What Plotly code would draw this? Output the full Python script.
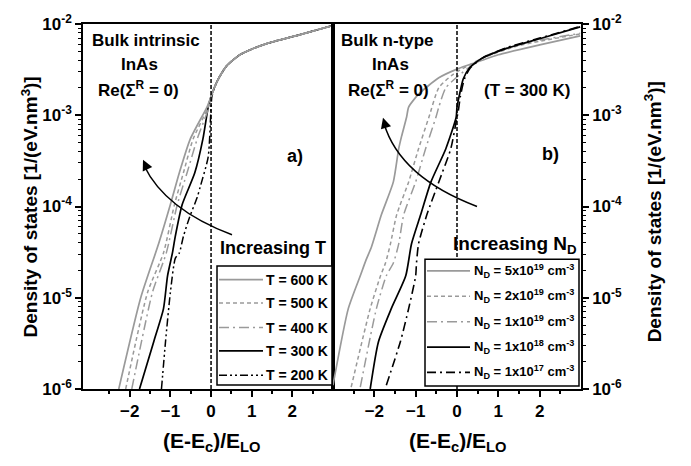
import plotly.graph_objects as go

# ---------------- data ----------------
# panel a) intrinsic InAs, different temperatures
upper_a_x = [0.08, 0.2, 0.39, 0.71, 1.0, 1.37, 2.17, 2.95]
upper_a_y = [2.0e-3, 2.6e-3, 3.5e-3, 4.6e-3, 5.3e-3, 6.1e-3, 7.6e-3, 9.5e-3]

t600_x = [-2.27, -1.73, -1.29, -1.0, -0.78, -0.51, -0.1, 0.0]
t600_y = [1e-6, 1.0e-5, 3.9e-5, 1.05e-4, 2.34e-4, 5.5e-4, 1.23e-3, 1.6e-3]
t500_x = [-2.1, -1.56, -1.17, -0.9, -0.68, -0.44, -0.07, 0.0]
t500_y = [1e-6, 1.15e-5, 3.1e-5, 1.05e-4, 2.34e-4, 5.5e-4, 1.23e-3, 1.6e-3]
t400_x = [-1.95, -1.44, -1.1, -0.83, -0.59, -0.34, -0.05, 0.0]
t400_y = [1e-6, 1.15e-5, 3.1e-5, 1.05e-4, 2.34e-4, 5.5e-4, 1.23e-3, 1.6e-3]
t300_x = [-1.76, -1.41, -1.17, -1.07, -0.95, -0.88, -0.71, -0.4, -0.2, -0.07, 0.0]
t300_y = [1e-6, 3.3e-6, 7.6e-6, 1.74e-5, 3.1e-5, 4.7e-5, 1.05e-4, 2.34e-4, 5.5e-4, 1.23e-3, 1.6e-3]
t200_x = [-1.22, -1.12, -1.0, -0.88, -0.78, -0.68, -0.53, -0.34, -0.27, -0.07, 0.0, 0.02]
t200_y = [1e-6, 3.3e-6, 1.15e-5, 2.7e-5, 3.1e-5, 4.7e-5, 7.6e-5, 1.26e-4, 1.62e-4, 3.5e-4, 1.23e-3, 1.6e-3]

labels_a = ["T = 600 K", "T = 500 K", "T = 400 K", "T = 300 K", "T = 200 K"]

# panel b) n-type InAs, T = 300 K, different doping
nd5e19_x = [-3.0, -2.63, -2.34, -2.2, -2.07, -1.83, -1.54, -1.41, -1.34, -1.22, -1.17,
            -0.93, -0.44, 0.0, 0.54, 1.0, 2.0, 2.98]
nd5e19_y = [1.1e-6, 7.6e-6, 1.74e-5, 2.6e-5, 3.6e-5, 8.1e-5, 1.86e-4, 4.3e-4, 5.9e-4, 9.5e-4,
            1.23e-3, 1.7e-3, 2.57e-3, 3.2e-3, 3.9e-3, 4.6e-3, 5.9e-3, 7.4e-3]
nd2e19_x = [-2.56, -2.1, -1.85, -1.73, -1.61, -1.46, -1.17, -0.93, -0.68, -0.44, -0.12,
            0.29, 0.71, 1.5, 2.98]
nd2e19_y = [1.05e-6, 7.6e-6, 1.74e-5, 2.4e-5, 3.9e-5, 8.1e-5, 1.86e-4, 4.3e-4, 9.5e-4,
            2.0e-3, 2.75e-3, 3.55e-3, 4.4e-3, 5.8e-3, 7.8e-3]
nd1e19_x = [-2.34, -1.95, -1.71, -1.54, -1.41, -1.29, -1.0, -0.76, -0.51, -0.44, -0.27,
            0.05, 0.37, 0.71, 1.5, 2.98]
nd1e19_y = [1.05e-6, 7.6e-6, 1.74e-5, 2.4e-5, 3.9e-5, 8.1e-5, 1.86e-4, 4.3e-4, 9.5e-4,
            1.23e-3, 2.0e-3, 2.75e-3, 3.55e-3, 4.5e-3, 6.0e-3, 7.9e-3]
nd1e18_x = [-2.1, -1.9, -1.59, -1.24, -1.1, -0.88, -0.63, -0.27, -0.02, 0.0, 0.05, 0.15,
            0.3, 0.6, 1.2, 2.0, 2.98]
nd1e18_y = [1e-6, 3.3e-6, 7.6e-6, 1.74e-5, 3.9e-5, 8.1e-5, 1.86e-4, 4.3e-4, 9.5e-4, 1.23e-3,
            1.6e-3, 2.5e-3, 3.3e-3, 4.2e-3, 5.4e-3, 6.9e-3, 9.3e-3]
nd1e17_x = [-1.71, -1.37, -1.17, -1.0, -0.98, -0.93, -0.73, -0.44, -0.15, 0.0, 0.03, 0.08,
            0.18, 0.32, 0.6, 1.2, 2.0, 2.98]
nd1e17_y = [1.1e-6, 3.3e-6, 7.6e-6, 1.74e-5, 2.4e-5, 3.9e-5, 8.1e-5, 1.86e-4, 4.3e-4,
            9.5e-4, 1.1e-3, 1.6e-3, 2.5e-3, 3.3e-3, 4.2e-3, 5.5e-3, 7.0e-3, 9.4e-3]

labels_b = ["N<sub>D</sub> = 5x10<sup>19</sup> cm<sup>-3</sup>",
            "N<sub>D</sub> = 2x10<sup>19</sup> cm<sup>-3</sup>",
            "N<sub>D</sub> = 1x10<sup>19</sup> cm<sup>-3</sup>",
            "N<sub>D</sub> = 1x10<sup>18</sup> cm<sup>-3</sup>",
            "N<sub>D</sub> = 1x10<sup>17</sup> cm<sup>-3</sup>"]

x_ticks = [-2, -1, 0, 1, 2]
x_minor = [-2.5, -1.5, -0.5, 0.5, 1.5, 2.5]
y_ticks = [1e-6, 1e-5, 1e-4, 1e-3, 1e-2]
y_ticktext = ["10<sup>-6</sup>", "10<sup>-5</sup>", "10<sup>-4</sup>", "10<sup>-3</sup>", "10<sup>-2</sup>"]
y_minor = [m * 10.0 ** e for e in range(-6, -2) for m in range(2, 10)]

# ---------------- styles ----------------
GRAY = "#9a9a9a"
styles = [
    dict(color=GRAY, width=1.7, dash="solid"),
    dict(color=GRAY, width=1.5, dash="4px,3px"),
    dict(color=GRAY, width=1.5, dash="10px,4px,2px,4px"),
    dict(color="black", width=1.7, dash="solid"),
    dict(color="black", width=1.5, dash="8px,3px,2px,3px,2px,3px"),
]
styles_b = styles[:4] + [dict(color="black", width=1.6, dash="9px,4px,2px,4px")]

FONT = "Liberation Sans"

fig = go.Figure()

series_a = [(t600_x, t600_y), (t500_x, t500_y), (t400_x, t400_y), (t300_x, t300_y), (t200_x, t200_y)]
order_a = list(zip(series_a, styles, labels_a))[::-1]   # gray curves drawn on top
for (xs, ys), st, lab in order_a:
    fig.add_trace(go.Scatter(x=xs + upper_a_x, y=ys + upper_a_y, mode="lines",
                             line=dict(shape="spline", smoothing=0.6, **st),
                             name=lab, xaxis="x", yaxis="y", showlegend=False))

series_b = [(nd5e19_x, nd5e19_y), (nd2e19_x, nd2e19_y), (nd1e19_x, nd1e19_y),
            (nd1e18_x, nd1e18_y), (nd1e17_x, nd1e17_y)]
for (xs, ys), st, lab in zip(series_b, styles_b, labels_b):
    fig.add_trace(go.Scatter(x=xs, y=ys, mode="lines",
                             line=dict(shape="spline", smoothing=0.6, **st), name=lab,
                             xaxis="x2", yaxis="y2", showlegend=False))

# ---------------- geometry helpers (pixel -> paper) ----------------
L, R, T, B = 83, 581, 15, 389
W, H = R - L, B - T
def px(x):
    return (x - L) / W
def py(y):
    return (B - y) / H

split = 250 / W

axis_common = dict(showline=True, linecolor="black", linewidth=1.5, mirror=True,
                   showgrid=False, zeroline=False, ticks="outside", tickcolor="black",
                   tickwidth=1.5, ticklen=6,
                   tickfont=dict(family=FONT, size=17, color="black", weight="bold"))

fig.update_layout(
    width=691, height=466,
    margin=dict(l=L, r=691 - R, t=T, b=466 - B),
    paper_bgcolor="white", plot_bgcolor="white",
    font=dict(family=FONT, color="black"),
    xaxis=dict(domain=[0, split], range=[-3.15, 3.0], tickvals=x_ticks,
               minor=dict(tickvals=x_minor, ticks="outside", ticklen=3, tickcolor="black", tickwidth=1.5),
               anchor="y", **axis_common),
    yaxis=dict(type="log", range=[-6, -2], tickvals=y_ticks, ticktext=y_ticktext,
               minor=dict(tickvals=y_minor, ticks="outside", ticklen=3, tickcolor="black", tickwidth=1),
               anchor="x", **axis_common),
    xaxis2=dict(domain=[split, 1], range=[-3.0, 3.0], tickvals=x_ticks,
                minor=dict(tickvals=x_minor, ticks="outside", ticklen=3, tickcolor="black", tickwidth=1.5),
                anchor="y2", **axis_common),
    yaxis2=dict(type="log", range=[-6, -2], tickvals=y_ticks, ticktext=y_ticktext, side="right",
                minor=dict(tickvals=y_minor, ticks="outside", ticklen=3, tickcolor="black", tickwidth=1),
                anchor="x2", **axis_common),
)

shapes = []
# vertical dashed lines at E = Ec
for xr in ["x", "x2"]:
    shapes.append(dict(type="line", xref=xr, yref="paper", x0=0, x1=0, y0=0, y1=1,
                       line=dict(color="black", width=1.5, dash="4px,2px")))

# curved arrows
shapes.append(dict(type="path", xref="paper", yref="paper",
                   path=f"M {px(232)} {py(231)} Q {px(165)} {py(205)} {px(144)} {py(160)}",
                   line=dict(color="black", width=1.5)))
shapes.append(dict(type="path", xref="paper", yref="paper",
                   path=f"M {px(477)} {py(202)} Q {px(400)} {py(172)} {px(384)} {py(117)}",
                   line=dict(color="black", width=1.5)))

annotations = []
annotations.append(dict(x=px(143), y=py(154), xref="paper", yref="paper", ax=3.4, ay=7.2,
                        showarrow=True, arrowhead=2, arrowsize=1.4, arrowwidth=1.5,
                        arrowcolor="black", text=""))
annotations.append(dict(x=px(383), y=py(111), xref="paper", yref="paper", ax=2.3, ay=7.7,
                        showarrow=True, arrowhead=2, arrowsize=1.4, arrowwidth=1.5,
                        arrowcolor="black", text=""))

def txt(x, y, s, size, xanchor="center", angle=0):
    annotations.append(dict(x=px(x), y=py(y), xref="paper", yref="paper", text=s,
                            showarrow=False, xanchor=xanchor, yanchor="middle", textangle=angle,
                            font=dict(family=FONT, size=size, color="black", weight="bold")))

# legend a)
shapes.append(dict(type="rect", xref="paper", yref="paper", x0=px(217), x1=px(332),
                   y0=py(385), y1=py(263), line=dict(color="black", width=1.5),
                   fillcolor="white", layer="above"))
ya = [277, 301, 326, 350, 375]
for yy, st, lab in zip(ya, styles, labels_a):
    shapes.append(dict(type="line", xref="paper", yref="paper", x0=px(219), x1=px(263),
                       y0=py(yy), y1=py(yy), line=st))
    txt(264, yy, lab, 14, xanchor="left")

# legend b)
shapes.append(dict(type="rect", xref="paper", yref="paper", x0=px(425), x1=px(579),
                   y0=py(386), y1=py(256), line=dict(color="black", width=1.5),
                   fillcolor="white", layer="above"))
yb = [268, 294, 320, 346, 372]
for yy, st, lab in zip(yb, styles_b, labels_b):
    shapes.append(dict(type="line", xref="paper", yref="paper", x0=px(427), x1=px(470),
                       y0=py(yy), y1=py(yy), line=st))
    txt(472, yy, lab, 13, xanchor="left")

# panel texts
txt(146, 32, "Bulk intrinsic", 17)
txt(139, 57, "InAs", 17)
txt(138, 82, "Re(Σ<sup>R</sup> = 0)", 17)
txt(295, 150, "a)", 18)
txt(273, 245, "Increasing T", 18)

txt(387, 32, "Bulk n-type", 17)
txt(390, 57, "InAs", 17)
txt(388, 82, "Re(Σ<sup>R</sup> = 0)", 17)
txt(527, 83, "(T = 300 K)", 17)
txt(550, 148, "b)", 18)
txt(515, 241, "Increasing N<sub>D</sub>", 19)

# axis titles
txt(211, 443, "(E-E<sub>c</sub>)/E<sub>LO</sub>", 21)
txt(457, 443, "(E-E<sub>c</sub>)/E<sub>LO</sub>", 21)
txt(30, 203, "Density of states [1/(eV.nm<sup>3</sup>)]", 19, angle=-90)
txt(653, 208, "Density of states [1/(eV.nm<sup>3</sup>)]", 19, angle=-90)

fig.update_layout(shapes=shapes, annotations=annotations)
fig.write_html("out.html")
